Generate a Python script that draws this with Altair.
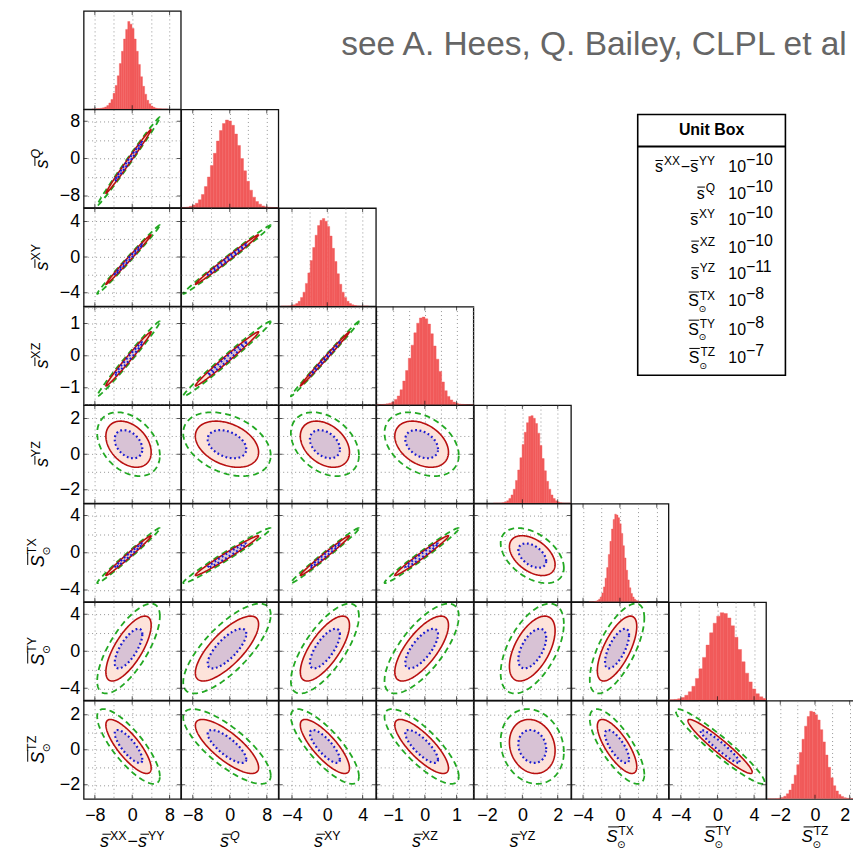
import altair as alt
import numpy as np
import pandas as pd

FONT = "Liberation Sans"
SUN = "DejaVu Sans"

# ---------------- values ----------------
var_keys = ["XX-YY", "Q", "XY", "XZ", "YZ", "TX", "TY", "TZ"]
unit_exponent = ["−10", "−10", "−10", "−10", "−11", "−8", "−8", "−7"]
axis_half_range = [10.4, 10.5, 5.5, 1.53, 2.75, 5.27, 5.3, 2.8]
tick_step = [8, 8, 4, 1, 2, 4, 4, 2]

# centre and sigma of the 2-D contours (in axis units)
ellipse_center = [-0.79, -0.6, -0.27, -0.1, 0.56, -0.31, 0.29, 0.19]
ellipse_sigma = [1.95, 2.75, 1.12, 0.34, 0.52, 0.86, 1.41, 0.62]
corr_rows = [
    [],
    [0.995],
    [0.995, 0.995],
    [0.99, 0.99, 0.997],
    [-0.35, -0.35, -0.35, -0.35],
    [0.99, 0.985, 0.99, 0.985, -0.45],
    [0.72, 0.75, 0.72, 0.72, 0.55, 0.68],
    [-0.8, -0.78, -0.8, -0.8, -0.15, -0.75, -0.95],
]
contour_radius = [1.515, 2.486, 3.44]  # blue dotted, red solid, green dashed

# marginal histograms: left edge of first bin, bin width, relative heights
hist_left = [-8.6, -11.98, -5.23, -1.57, -1.64, -3.36, -6.28, -2.7]
hist_binwidth = [0.45, 0.65, 0.275, 0.0875, 0.125, 0.175, 0.3875, 0.15]
hist_1 = [0, 0, 0.4, 0.5, 1, 1.5, 2.5, 4, 7, 11, 18, 27, 38, 52, 66, 80, 91, 100,
          97, 92, 80, 66, 51, 37, 26, 17, 10, 6, 3.5, 2, 1, 0.5, 0.4, 0, 0, 0]
hist_2 = [0, 0, 0, 0.3, 0.7, 1.5, 3, 5, 9, 15, 24, 35, 48, 62, 76, 88, 96, 100,
          99, 94, 84, 71, 56, 42, 30, 20, 12, 7, 4, 2, 1, 0.5, 0.3, 0, 0, 0]
hist_3 = [0, 0, 0, 0.3, 0.8, 1.5, 3, 5.5, 10, 16, 26, 38, 52, 67, 81, 92, 98, 100,
          97, 91, 80, 66, 51, 37, 25, 16, 10, 5.5, 3, 1.5, 0.8, 0.3, 0, 0, 0, 0]
hist_4 = [0, 0, 0.3, 0.5, 1, 1.8, 3.2, 6, 10, 17, 27, 39, 53, 68, 82, 93, 99, 100,
          98, 92, 81, 67, 52, 38, 26, 16, 9.5, 5.5, 3, 1.6, 0.8, 0.4, 0.2, 0, 0, 0]
hist_5 = [0, 0, 0, 0.2, 0.6, 1.4, 2.8, 5.5, 9.5, 16, 26, 38, 52, 67, 81, 92, 99, 100,
          97, 91, 80, 66, 51, 37, 25, 16, 9.5, 5.5, 2.8, 1.4, 0.6, 0.2, 0, 0, 0, 0]
hist_6 = [0, 0, 0, 0.3, 0.7, 1.5, 3, 5.5, 10, 17, 27, 39, 54, 69, 83, 94, 100, 99,
          96, 89, 78, 64, 50, 36, 25, 16, 9.5, 5.5, 3, 1.5, 0.7, 0.3, 0, 0, 0, 0]
hist_7 = [0, 0.3, 0.4, 0.6, 1, 1.8, 3.2, 5.8, 9.8, 16, 25, 36, 49, 63, 77, 88, 96, 100,
          99, 94, 85, 72, 58, 44, 31, 21, 13, 7.5, 4, 2, 1, 0.5, 0.3, 0.2, 0, 0]
hist_8 = [0, 0, 0, 0.3, 0.8, 1.6, 3, 5.8, 10, 17, 27, 39, 53, 68, 83, 94, 100, 99,
          96, 90, 79, 65, 50, 36, 24, 15, 9, 5, 2.8, 1.4, 0.7, 0.3, 0.2, 0, 0, 0]
hist_heights = [hist_1, hist_2, hist_3, hist_4, hist_5, hist_6, hist_7, hist_8]

# ---------------- styling / layout ----------------
HIST_RED = "#f15a5a"
FILL_OUT = "#fde3da"
FILL_IN = "#d8c2d5"
LINE_RED = "#b81010"
LINE_BLUE = "#1a1ad0"
LINE_GREEN = "#22a822"

W, H = 97.6, 98.6
X0, Y0 = 83.0, 8.65
one = pd.DataFrame({"a": [0]})


def cell_origin(r, c):
    return X0 + c * W, Y0 + r * H


def vscale(v):
    r = axis_half_range[v]
    return alt.Scale(domain=[-r, r], nice=False, zero=False)


def axis_for(v, labels, orient):
    t = tick_step[v]
    r = axis_half_range[v]
    vals = [k * t / 2 for k in range(-6, 7) if abs(k * t / 2) <= r + 1e-9]
    expr = (f"datum.value == 0 ? '0' : (datum.value == {t} ? '{t}' : "
            f"(datum.value == -{t} ? '−{t}' : ''))")
    kw = dict(
        orient=orient, values=vals, grid=True, gridDash=[1, 3],
        gridColor="#8a8a8a", gridWidth=0.9, ticks=False, domain=False,
        labels=labels, labelExpr=expr,
        labelFont=FONT, labelFontSize=18, labelColor="black",
        labelPadding=8 if orient == "bottom" else 4,
        labelOverlap=False, labelFlush=False, title=None,
    )
    if v == 7 and orient == "bottom":
        # right-most label sits at the cropped edge of the picture
        kw["labelAlign"] = {"condition": {"test": f"datum.value == {t}", "value": "right"},
                            "value": "center"}
    return alt.Axis(**kw)


def txt(text, x, y, size, italic=False, bold=False, angle=0, color="black",
        font=FONT, align="left"):
    kw = dict(text=text, font=font, fontSize=size,
              fontStyle="italic" if italic else "normal",
              fontWeight="bold" if bold else "normal",
              align=align, baseline="alphabetic", color=color)
    if angle:
        kw["angle"] = angle
    return alt.Chart(one).mark_text(**kw).encode(x=alt.value(x), y=alt.value(y))


def hrule(x1, x2, y, width=1.0, color="black"):
    return alt.Chart(one).mark_rule(color=color, strokeWidth=width).encode(
        x=alt.value(x1), x2=alt.value(x2), y=alt.value(y))


def vrule(x, y1, y2, width=1.0, color="black"):
    return alt.Chart(one).mark_rule(color=color, strokeWidth=width).encode(
        x=alt.value(x), y=alt.value(y1), y2=alt.value(y2))


def tick_layers(X=None, Y=None, v_x=None, v_y=None):
    """Short inward tick marks at the labelled values on the panel edges."""
    out = []
    if X is not None:
        t = tick_step[v_x]
        d = pd.DataFrame({"x": [-t, 0, t]})
        for yy in (0, H):
            out.append(alt.Chart(d).mark_tick(color="#111", size=8, thickness=1, clip=True)
                       .encode(x=X, y=alt.value(yy)))
    if Y is not None:
        t = tick_step[v_y]
        d = pd.DataFrame({"y": [-t, 0, t]})
        for xx in (0, W):
            out.append(alt.Chart(d).mark_tick(color="#111", size=8, thickness=1, clip=True)
                       .encode(y=Y, x=alt.value(xx)))
    return out


GLYPH_W = {"X": 0.667, "Y": 0.667, "Z": 0.611, "Q": 0.778, "T": 0.611}


def label_pieces(v, M, S, italic):
    pcs = []

    def s_sym(x):
        pcs.append(("t", "s", x, 0, M, italic, FONT))
        a = 0.14 * M if italic else 0.03 * M
        pcs.append(("o", x + a, x + a + 0.48 * M, -0.72 * M))
        return x + 0.5 * M

    def S_sym(x):
        pcs.append(("t", "S", x, 0, M, italic, FONT))
        a = 0.12 * M if italic else 0.03 * M
        pcs.append(("o", x + a, x + a + 0.66 * M, -0.9 * M))
        w = 0.667 * M
        pcs.append(("t", "⊙", x + w - 0.02 * M, 0.36 * M, 0.6 * M, False, SUN))
        return x + w

    def sup(x, t, it=False):
        pcs.append(("t", t, x + 1, -0.42 * M, S, it, FONT))
        return x + 1 + sum(GLYPH_W[ch] for ch in t) * S

    if v == 0:
        x = s_sym(0)
        x = sup(x, "XX")
        pcs.append(("t", "−", x + 1, 0, M, False, FONT))
        x = x + 1 + 0.584 * M
        x = s_sym(x)
        x = sup(x, "YY")
    elif v == 1:
        x = s_sym(0)
        x = sup(x, "Q", italic)
    elif v in (2, 3, 4):
        x = s_sym(0)
        x = sup(x, ["XY", "XZ", "YZ"][v - 2])
    else:
        x = S_sym(0)
        x = sup(x, ["TX", "TY", "TZ"][v - 5])
    return pcs, x


def place(pcs, mode, ax, ay, color="black"):
    out = []
    for p in pcs:
        if p[0] == "t":
            _, t, dx, dy, size, it, font = p
            if mode == "h":
                out.append(txt(t, ax + dx, ay + dy, size, italic=it, font=font, color=color))
            else:
                out.append(txt(t, ax + dy, ay - dx, size, italic=it, font=font,
                               angle=270, color=color))
        else:
            _, d0, d1, dy = p
            if mode == "h":
                out.append(hrule(ax + d0, ax + d1, ay + dy, 1.0, color))
            else:
                out.append(vrule(ax + dy, ay - d0, ay - d1, 1.0, color))
    return out


def bottom_title(v):
    if v < 5:
        pcs, tot = label_pieces(v, 18, 12.5, True)
        base = H + 48.5
    else:
        pcs, tot = label_pieces(v, 17, 12, True)
        base = H + 43.5
    return place(pcs, "h", W / 2 - tot / 2, base)


def left_title(v):
    pcs, tot = label_pieces(v, 18, 12.5, True)
    bx = -36 if v < 5 else -40
    return place(pcs, "v", bx, H / 2 + tot / 2)


def ellipse_cell(i, j):
    rho = corr_rows[i][j]
    mx, my = ellipse_center[j], ellipse_center[i]
    sx, sy = ellipse_sigma[j], ellipse_sigma[i]
    q = np.sqrt(1 - rho ** 2)
    X = alt.X("x:Q", scale=vscale(j), axis=axis_for(j, i == 7, "bottom"))
    Y = alt.Y("y:Q", scale=vscale(i), axis=axis_for(i, j == 0, "left"))

    def outline(k):
        t = np.linspace(0, 2 * np.pi, 181)
        return pd.DataFrame({
            "i": np.arange(t.size),
            "x": mx + k * sx * np.cos(t),
            "y": my + k * sy * (rho * np.cos(t) + q * np.sin(t)),
        })

    def band(k):
        t = np.linspace(0, np.pi, 121)
        return pd.DataFrame({
            "x": mx + k * sx * np.cos(t),
            "y": my + k * sy * (rho * np.cos(t) + q * np.sin(t)),
            "y2": my + k * sy * (rho * np.cos(t) - q * np.sin(t)),
        })

    layers = [
        alt.Chart(band(contour_radius[1])).mark_area(color=FILL_OUT, opacity=1, clip=True)
        .encode(x=X, y=Y, y2="y2:Q"),
        alt.Chart(band(contour_radius[0])).mark_area(color=FILL_IN, opacity=1, clip=True)
        .encode(x=X, y=Y, y2="y2:Q"),
        alt.Chart(outline(contour_radius[2])).mark_line(
            color=LINE_GREEN, strokeWidth=1.8, strokeDash=[6, 4], clip=True)
        .encode(x=X, y=Y, order="i:Q"),
        alt.Chart(outline(contour_radius[1])).mark_line(
            color=LINE_RED, strokeWidth=1.6, clip=True)
        .encode(x=X, y=Y, order="i:Q"),
        alt.Chart(outline(contour_radius[0])).mark_line(
            color=LINE_BLUE, strokeWidth=2.2, strokeDash=[1.8, 2.6], clip=True)
        .encode(x=X, y=Y, order="i:Q"),
    ]
    layers += tick_layers(X=X, Y=Y, v_x=j, v_y=i)
    if j == 0:
        layers += left_title(i)
    if i == 7:
        layers += bottom_title(j)
    return alt.layer(*layers).properties(width=W, height=H)


def hist_cell(v):
    hs = hist_heights[v]
    x0 = [hist_left[v] + k * hist_binwidth[v] for k in range(len(hs))]
    df = pd.DataFrame({"x0": x0, "x1": [a + hist_binwidth[v] for a in x0], "h": hs})
    last = v == 7
    X = alt.X("x:Q", scale=vscale(v), axis=axis_for(v, last, "bottom"))
    bars = alt.Chart(df).mark_bar(color=HIST_RED, stroke=HIST_RED, strokeWidth=0.4, clip=True).encode(
        x=alt.X("x0:Q", scale=vscale(v), axis=axis_for(v, last, "bottom")),
        x2="x1:Q",
        y=alt.Y("h:Q", scale=alt.Scale(domain=[0, 112], nice=False), axis=None),
        y2=alt.datum(0),
    )
    layers = [bars] + tick_layers(X=X, v_x=v)
    if v == 0:
        layers.append(vrule(-74.75, 40, 41, 0.5, "white"))
    if last:
        layers += bottom_title(v)
    return alt.layer(*layers).properties(width=W, height=H)


def blank_cell(r, c):
    extra = []
    ox, oy = cell_origin(r, c)
    if r == 0 and c == 2:
        extra.append(txt("see A. Hees, Q. Bailey, CLPL et al", 341 - ox, 53 - oy, 33.6,
                         color="#666666"))
    if r == 1 and c == 6:
        extra.append(alt.Chart(one).mark_rect(fill="white", stroke="black", strokeWidth=1.6)
                     .encode(x=alt.value(637.3 - ox), x2=alt.value(785.7 - ox),
                             y=alt.value(112.3 - oy), y2=alt.value(374.3 - oy)))
        extra.append(txt("Unit Box", 711.5 - ox, 133.3 - oy, 16, bold=True, align="center"))
        extra.append(hrule(637.3 - ox, 785.7 - ox, 144.3 - oy, 2.0))
        row_base = [170, 196.7, 223.3, 251, 277.7, 305, 333.3, 361.7]
        for k in range(8):
            by = row_base[k] - oy
            pcs, tot = label_pieces(k, 16, 12, False)
            extra += place(pcs, "h", 715 - tot - ox, by)
            extra.append(txt("10", 728.3 - ox, by, 16))
            extra.append(txt(unit_exponent[k], 746 - ox, by - 7, 16))
    base = alt.Chart(one).mark_point(size=0, opacity=0).encode(
        x=alt.value(W / 2), y=alt.value(H / 2))
    return alt.layer(base, *extra).properties(
        width=W, height=H, view=alt.ViewBackground(stroke="transparent"))


cells = []
for r in range(8):
    for c in range(8):
        if c > r:
            cells.append(blank_cell(r, c))
        elif c == r:
            cells.append(hist_cell(r))
        else:
            cells.append(ellipse_cell(r, c))

# the picture is a crop: trim the right-most px of the last column and keep the
# page inside the window so that nothing scrolls
chart = alt.concat(*cells, columns=8, spacing=0, bounds="flush").properties(
    padding={"left": 0, "right": -12, "top": 0, "bottom": -2}
).configure_view(stroke="#111111", strokeWidth=1.3)

chart.save("out.html", embed_options={"renderer": "svg", "actions": False})
